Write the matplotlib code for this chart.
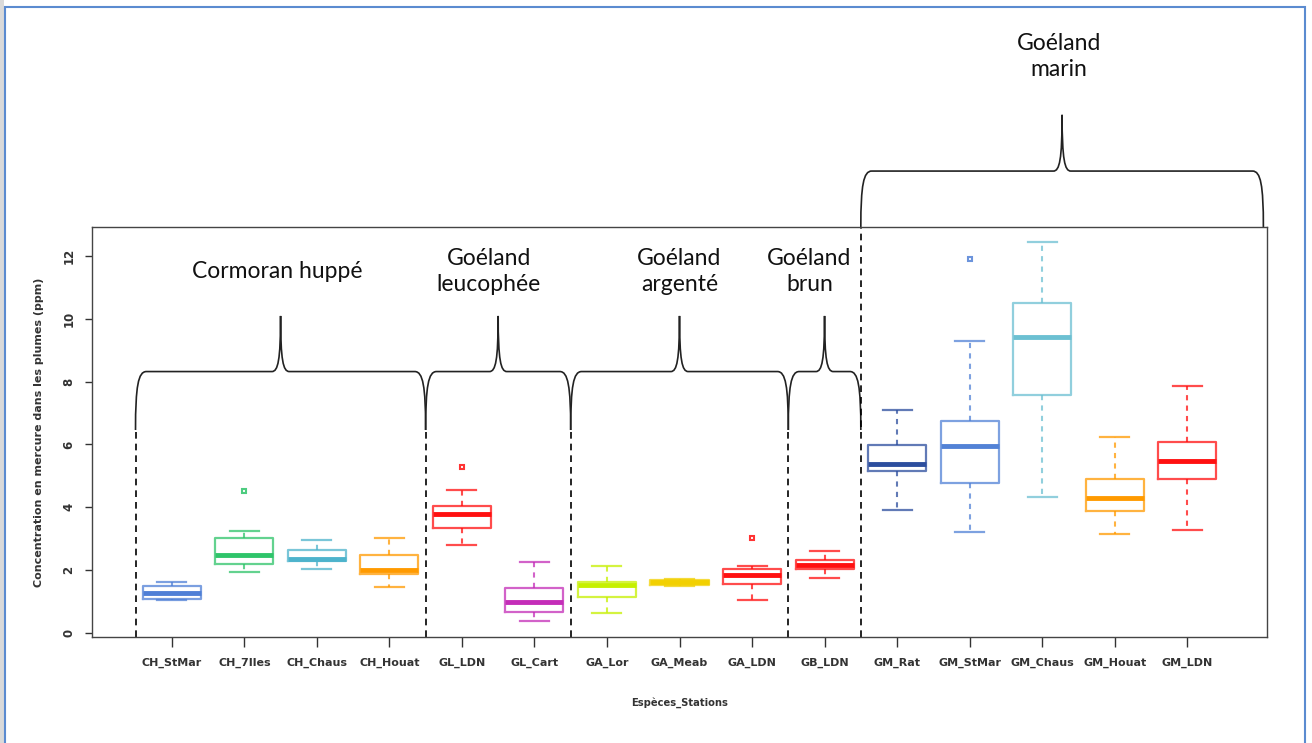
import matplotlib
matplotlib.use("Agg")
import matplotlib.pyplot as plt
from matplotlib.path import Path
from matplotlib.patches import PathPatch, Rectangle

# stations (x axis) and box statistics (ppm)
labels = ["CH_StMar", "CH_7Iles", "CH_Chaus", "CH_Houat", "GL_LDN", "GL_Cart",
          "GA_Lor", "GA_Meab", "GA_LDN", "GB_LDN",
          "GM_Rat", "GM_StMar", "GM_Chaus", "GM_Houat", "GM_LDN"]
whislo = [1.04, 1.93, 2.03, 1.47, 2.80, 0.37, 0.63, 1.50, 1.04, 1.75, 3.90, 3.20, 4.34, 3.16, 3.28]
q1     = [1.09, 2.21, 2.28, 1.88, 3.34, 0.66, 1.15, 1.54, 1.55, 2.04, 5.16, 4.78, 7.58, 3.89, 4.90]
med    = [1.26, 2.49, 2.36, 2.00, 3.80, 0.98, 1.53, 1.61, 1.84, 2.15, 5.37, 5.95, 9.42, 4.31, 5.48]
q3     = [1.50, 3.02, 2.65, 2.47, 4.05, 1.44, 1.62, 1.68, 2.03, 2.32, 5.98, 6.76, 10.51, 4.89, 6.07]
whishi = [1.62, 3.25, 2.95, 3.02, 4.55, 2.25, 2.13, 1.73, 2.14, 2.60, 7.10, 9.30, 12.45, 6.25, 7.87]
fliers = [[], [4.53], [], [], [5.28], [], [], [], [3.02], [], [], [11.90], [], [], []]
colors = ["#4F7FD6", "#2FC46A", "#4DB3CC", "#FF9A00", "#FF1010", "#C42DB8",
          "#C6F000", "#F2D000", "#FF1010", "#FF1010",
          "#2C4E9E", "#5282D6", "#6CC0D2", "#FF9A00", "#FF1010"]

# species groups: (first station, last station, label)
groups = [(0.5, 4.5, "Cormoran huppé"), (4.5, 6.5, "Goéland\nleucophée"),
          (6.5, 9.5, "Goéland\nargenté"), (9.5, 10.5, "Goéland\nbrun")]
group_label_x = [2.46, 5.37, 8.0, 9.79]
marin_span = (10.5, 16.05)
marin_label = "Goéland\nmarin"

fig = plt.figure(figsize=(13.12, 7.43), dpi=100)
ax = fig.add_axes([92/1312, 1-637/743, (1267-92)/1312, (637-227)/743])

stats = []
for i in range(len(labels)):
    stats.append(dict(label=labels[i], whislo=whislo[i], q1=q1[i], med=med[i],
                      q3=q3[i], whishi=whishi[i], fliers=fliers[i]))
pos = list(range(1, len(labels) + 1))
art = ax.bxp(stats, positions=pos, widths=0.8, showfliers=True)

for i, c in enumerate(colors):
    art["boxes"][i].set(color=c, lw=1.6, alpha=0.75)
    art["medians"][i].set(color=c, lw=3.5, solid_capstyle="butt")
    for w in art["whiskers"][2*i:2*i+2]:
        w.set(color=c, lw=1.5, ls=(0, (2.5, 2.5)), alpha=0.75)
    for cp in art["caps"][2*i:2*i+2]:
        cp.set(color=c, lw=1.6, alpha=0.75)
        xd = cp.get_xdata()
        m = (xd[0] + xd[1]) / 2
        cp.set_xdata([m - 0.2, m + 0.2])
    art["fliers"][i].set(marker="s", markersize=3.5, mfc="white", mec=c, mew=1.5, alpha=0.85)

ax.set_xlim(-0.1, 16.1)
ax.set_ylim(-0.127, 12.92)

ax.set_yticks([0, 2, 4, 6, 8, 10, 12])
ax.set_yticklabels(["0", "2", "4", "6", "8", "10", "12"], rotation=90, va="center")
ax.set_xticks(pos)
ax.set_xticklabels(labels)
ax.tick_params(axis="y", length=5, width=1, pad=7, labelsize=8.5, colors="#333333")
ax.tick_params(axis="x", length=7, width=1, pad=8, labelsize=8, colors="#333333")
for lab in ax.get_xticklabels() + ax.get_yticklabels():
    lab.set_fontweight("bold")
    lab.set_color("#333333")
for s in ax.spines.values():
    s.set_color("#444444")
    s.set_linewidth(1)

ax.set_ylabel("Concentration en mercure dans les plumes (ppm)", fontsize=8,
              fontweight="bold", color="#333333", labelpad=13)
ax.set_xlabel("Espèces_Stations", fontsize=7.2, fontweight="bold", color="#333333",
              labelpad=21)

# separators
for x in [0.5, 4.5, 6.5, 9.5]:
    ax.plot([x, x], [-0.127, 6.46], color="black", lw=1.2, ls=(0, (4, 3)))
ax.plot([10.5, 10.5], [-0.127, 12.92], color="black", lw=1.2, ls=(0, (4, 3)))


def brace(x0, x1, ye, yf, yt, xm, dx=0.15, dt=0.12):
    verts = [(x0, ye), (x0, ye + 0.75*(yf-ye)), (x0 + 0.25*dx, yf), (x0 + dx, yf),
             (xm - dt, yf),
             (xm - 0.3*dt, yf), (xm, yf + 0.2*(yt-yf)), (xm, yt),
             (xm, yf + 0.2*(yt-yf)), (xm + 0.3*dt, yf), (xm + dt, yf),
             (x1 - dx, yf),
             (x1 - 0.25*dx, yf), (x1, ye + 0.75*(yf-ye)), (x1, ye)]
    codes = [Path.MOVETO, Path.CURVE4, Path.CURVE4, Path.CURVE4, Path.LINETO,
             Path.CURVE4, Path.CURVE4, Path.CURVE4, Path.CURVE4, Path.CURVE4, Path.CURVE4,
             Path.LINETO, Path.CURVE4, Path.CURVE4, Path.CURVE4]
    p = PathPatch(Path(verts, codes), fc="none", ec="#222222", lw=1.2, clip_on=False)
    ax.add_patch(p)


for (x0, x1, txt), tx in zip(groups, group_label_x):
    brace(x0, x1, 6.46, 8.32, 10.09, (x0 + x1) / 2)
    ax.text(tx, 11.5, txt, ha="center", va="center", fontsize=16.5,
            family="Lato", color="#111111", linespacing=1.3)

brace(marin_span[0], marin_span[1], 12.92, 14.70, 16.49, sum(marin_span) / 2)
ax.text(13.23, 18.35, marin_label, ha="center", va="center", fontsize=16.5,
        family="Lato", color="#111111", linespacing=1.3, clip_on=False)

# screenshot frame
fig.patches.append(Rectangle((0, 0), 4/1312, 1, transform=fig.transFigure,
                             fc="#DADADA", ec="none"))
fig.patches.append(Rectangle((5/1312, -0.02), 1300/1312, 1.02 - 7/743,
                             transform=fig.transFigure, fc="none", ec="#5B8BD0", lw=1.5))

fig.savefig("out.png", dpi=100)
